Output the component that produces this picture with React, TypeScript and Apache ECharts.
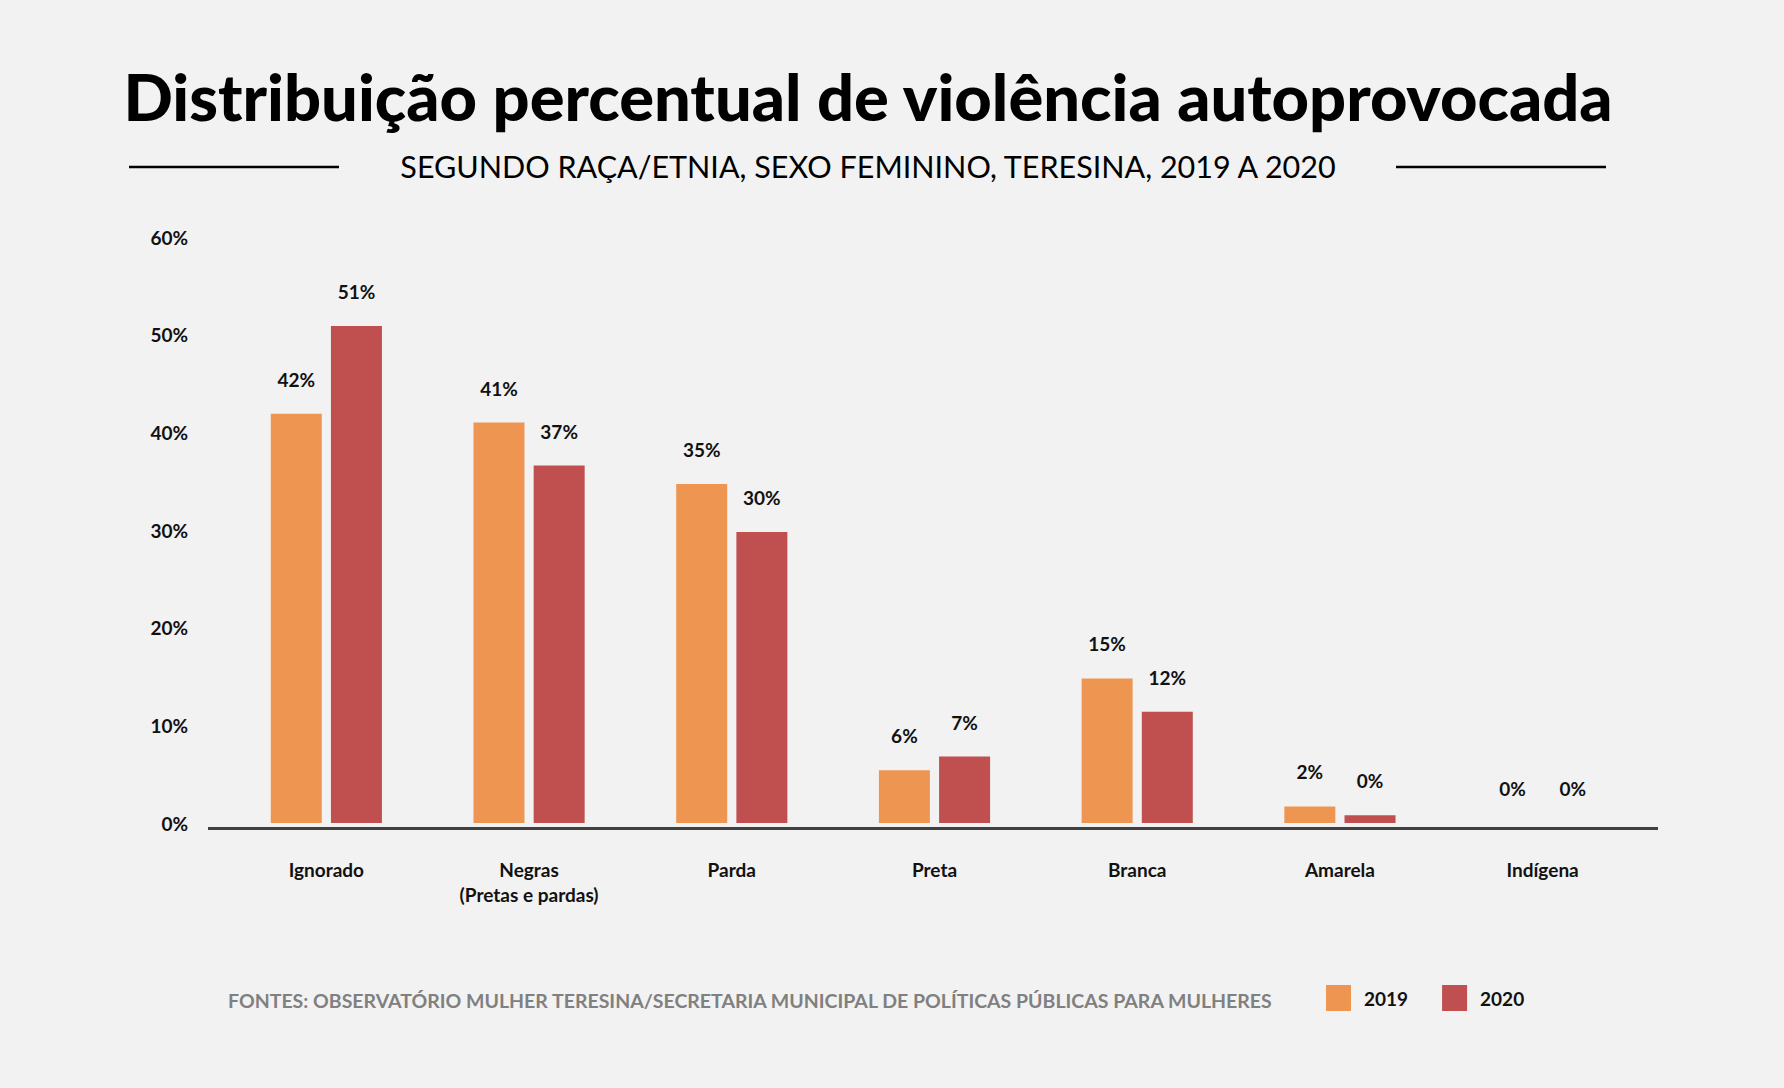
import { useEffect, useRef } from 'react';
import * as echarts from 'echarts';

// categorias e valores
const categories = [
  'Ignorado',
  'Negras\n(Pretas e pardas)',
  'Parda',
  'Preta',
  'Branca',
  'Amarela',
  'Indígena',
];
const values2019 = [41.9, 41.0, 34.7, 5.4, 14.8, 1.7, 0];
const values2020 = [50.9, 36.6, 29.8, 6.8, 11.4, 0.8, 0];
const labels2019 = [42, 41, 35, 6, 15, 2, 0];
const labels2020 = [51, 37, 30, 7, 12, 0, 0];
const seriesNames = ['2019', '2020'];

const TITLE = 'Distribuição percentual de violência autoprovocada';
const SUBTITLE = 'SEGUNDO RAÇA/ETNIA, SEXO FEMININO, TERESINA, 2019 A 2020';
const SOURCE =
  'FONTES: OBSERVATÓRIO MULHER TERESINA/SECRETARIA MUNICIPAL DE POLÍTICAS PÚBLICAS PARA MULHERES';

const ORANGE = '#EF9552';
const RED = '#C05050';
const FONT = 'Lato, "Noto Sans", sans-serif';

export default function App() {
  const ref = useRef<HTMLDivElement>(null);

  useEffect(() => {
    document.body.style.margin = '0';
    if (!ref.current) return;
    const chart = echarts.init(ref.current, undefined, { renderer: 'svg' });

    const labelStyle = (texts: number[]) => ({
      show: true,
      position: 'top' as const,
      distance: 25,
      color: '#111',
      fontFamily: FONT,
      fontWeight: 'bold' as const,
      fontSize: 19,
      formatter: (p: any) => `${texts[p.dataIndex]}%`,
    });

    const option: echarts.EChartsOption = {
      animation: false,
      backgroundColor: '#F2F2F2',
      textStyle: { fontFamily: FONT },
      grid: { left: 225, right: 140, top: 237, bottom: 265, containLabel: false },
      legend: {
        data: seriesNames,
        left: 1321,
        top: 980,
        itemWidth: 25,
        itemHeight: 26,
        itemGap: 34,
        icon: 'rect',
        textStyle: { fontFamily: FONT, fontWeight: 'bold', fontSize: 19, color: '#111', padding: [0, 0, 0, 8] },
      },
      xAxis: {
        type: 'category',
        data: categories,
        offset: 6,
        axisLine: { show: false },
        axisTick: { show: false },
        axisLabel: {
          margin: 28,
          color: '#111',
          fontFamily: FONT,
          fontWeight: 'bold',
          fontSize: 19,
          lineHeight: 25,
        },
      },
      yAxis: {
        type: 'value',
        min: 0,
        max: 60,
        interval: 10,
        splitLine: { show: false },
        axisLine: { show: false },
        axisTick: { show: false },
        axisLabel: {
          margin: 37,
          color: '#111',
          fontFamily: FONT,
          fontWeight: 'bold',
          fontSize: 19,
          formatter: '{value}%',
        },
      },
      series: [
        {
          name: seriesNames[0],
          type: 'bar',
          data: values2019,
          barWidth: 51,
          barGap: '18%',
          itemStyle: { color: ORANGE },
          label: labelStyle(labels2019),
        },
        {
          name: seriesNames[1],
          type: 'bar',
          data: values2020,
          barWidth: 51,
          barGap: '18%',
          itemStyle: { color: RED },
          label: labelStyle(labels2020),
        },
      ],
      graphic: [
        {
          type: 'text',
          x: 868,
          y: 96,
          style: {
            text: TITLE,
            fontFamily: FONT,
            fontWeight: 900,
            fontSize: 65,
            fill: '#000',
            align: 'center',
            verticalAlign: 'middle',
          },
        },
        {
          type: 'text',
          x: 868,
          y: 166,
          style: {
            text: SUBTITLE,
            fontFamily: FONT,
            fontSize: 30.5,
            fill: '#000',
            align: 'center',
            verticalAlign: 'middle',
          },
        },
        {
          type: 'line',
          shape: { x1: 129, y1: 167, x2: 339, y2: 167 },
          style: { stroke: '#000', lineWidth: 2.5 },
        },
        {
          type: 'line',
          shape: { x1: 1396, y1: 167, x2: 1606, y2: 167 },
          style: { stroke: '#000', lineWidth: 2.5 },
        },
        // linha de base do eixo x, um pouco abaixo das barras
        {
          type: 'line',
          shape: { x1: 208, y1: 828.5, x2: 1658, y2: 828.5 },
          style: { stroke: '#404040', lineWidth: 3 },
        },
        {
          type: 'text',
          x: 228,
          y: 1000,
          style: {
            text: SOURCE,
            fontFamily: FONT,
            fontWeight: 'bold',
            fontSize: 19.5,
            fill: '#808080',
            align: 'left',
            verticalAlign: 'middle',
          },
        },
      ],
    };

    chart.setOption(option);
    return () => chart.dispose();
  }, []);

  return <div ref={ref} style={{ width: 1784, height: 1088, background: '#F2F2F2' }} />;
}
